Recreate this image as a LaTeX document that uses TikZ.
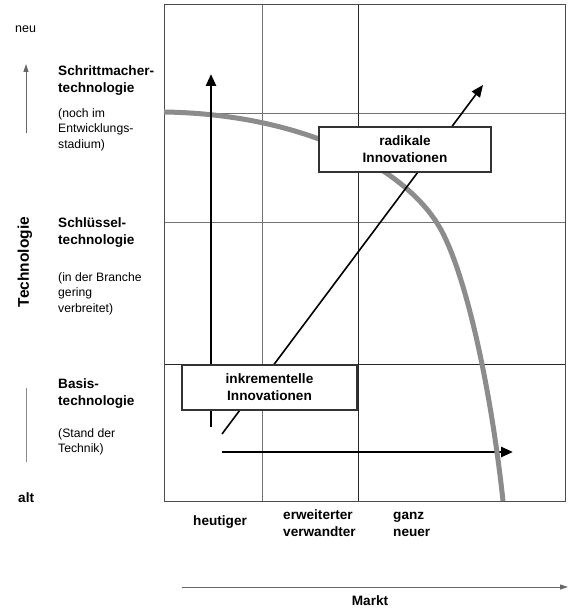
\documentclass[tikz,border=0pt]{standalone}
\usepackage{fontspec}
\setmainfont{Liberation Sans}
\usetikzlibrary{arrows.meta}
\newcommand\myTop{\rule{0pt}{10pt}}
\begin{document}
\begin{tikzpicture}[x=1pt,y=-1pt,
  hb/.style={font=\fontsize{13.6}{17}\selectfont\bfseries, inner sep=0pt, align=left, anchor=north west},
  rg/.style={font=\fontsize{12.2}{15.5}\selectfont, inner sep=0pt, align=left, anchor=north west},
  lbl/.style={font=\fontsize{13.6}{17}\selectfont\bfseries, inner sep=0pt, align=left, anchor=north west},
  gridl/.style={draw=black!55, line width=0.8pt},
  gridd/.style={draw=black!85, line width=0.9pt},
  frame/.style={draw=black!70, line width=1pt},
  curve/.style={draw=black!45, line width=5pt},
  thickarr/.style={line width=2.6pt, -{Triangle[length=12pt,width=10pt]}},
  thinarr/.style={line width=1.6pt, -{Triangle[length=12pt,width=10pt]}},
  axisarr/.style={draw=black!60, line width=0.8pt, -{Triangle[length=8pt,width=5pt]}},
  axisline/.style={draw=black!45, line width=0.8pt},
  box/.style={draw=black!80, line width=1.2pt, fill=white, align=center, font=\fontsize{13.6}{17}\selectfont\bfseries, inner sep=0pt}
]
\useasboundingbox (0,0) rectangle (573,615);
% grid
\draw[gridl] (262,5) -- (262,501);
\draw[gridl] (164,113) -- (565,113);
\draw[gridl] (164,222) -- (565,222);
\draw[gridd] (358,5) -- (358,501);
\draw[gridd] (164,364) -- (565,364);
\draw[frame] (164,5) rectangle (565,501);
% arrows (horizontal lies below the curve)
\coordinate (v0) at (211,427);
\coordinate (v1) at (211,74);
\coordinate (d0) at (222,434);
\coordinate (d1) at (483,85);
\coordinate (h0) at (222,452);
\coordinate (h1) at (513,452);
\draw[thickarr] (h0) -- (h1);
% curve
\draw[curve] (164,112) .. controls (300,114) and (400,165) .. (437,223)
                       .. controls (463,263) and (490,380) .. (503,501);
\draw[thickarr] (v0) -- (v1);
\draw[thinarr] (d0) -- (d1);
% boxes
\node[box, minimum width=172pt, minimum height=45pt] (rad) at (405,149.5) {radikale\\Innovationen};
\node[box, minimum width=175pt, minimum height=45pt] (ink) at (269.5,387.5) {inkrementelle\\Innovationen};
% left axis
\coordinate (ta0) at (26,133);
\coordinate (ta1) at (26,64);
\draw[axisarr] (ta0) -- (ta1);
\coordinate (tb0) at (26,388);
\coordinate (tb1) at (26,462);
\draw[axisline] (tb0) -- (tb1);
\node[font=\fontsize{12.5}{15}\selectfont, inner sep=0pt, anchor=base west] (neu) at (15,33) {neu};
\node[font=\fontsize{13.6}{15}\selectfont\bfseries, inner sep=0pt, anchor=base west] (alt) at (18,502) {alt};
\node[rotate=90, font=\fontsize{15.5}{18}\selectfont\bfseries, inner sep=0pt] (tech) at (25,262) {Technologie};
% left labels
\node[hb] (s1) at (58,65) {\myTop Schrittmacher-\\technologie};
\node[rg] (s2) at (58,107) {\myTop (noch im\\Entwicklungs-\\stadium)};
\node[hb] (k1) at (58,217) {\myTop Schlüssel-\\technologie};
\node[rg] (k2) at (58,271) {\myTop (in der Branche\\gering\\verbreitet)};
\node[hb] (b1) at (58,378) {\myTop Basis-\\technologie};
\node[rg] (b2) at (58,427) {\myTop (Stand der\\Technik)};
% bottom labels
\node[lbl] (m1) at (193,515) {\myTop heutiger};
\node[lbl] (m2) at (283,509) {\myTop erweiterter\\verwandter};
\node[lbl] (m3) at (393,509) {\myTop ganz\\neuer};
\coordinate (ma0) at (182,587);
\coordinate (ma1) at (568,587);
\draw[axisarr] (ma0) -- (ma1);
\node[font=\fontsize{13.6}{15}\selectfont\bfseries, inner sep=0pt, anchor=base] (markt) at (370,605) {Markt};
\end{tikzpicture}
\end{document}
